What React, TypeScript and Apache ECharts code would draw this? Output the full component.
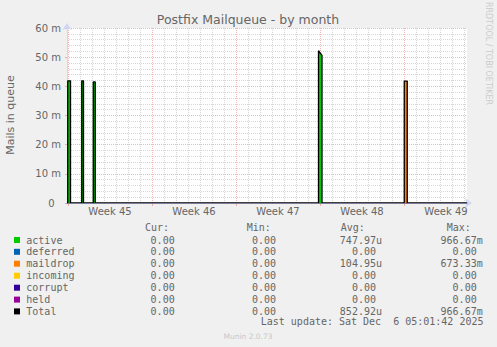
import React, { useEffect, useRef } from "react";
import * as echarts from "echarts";

// ---- texts ----
const TITLE = "Postfix Mailqueue - by month";
const Y_NAME = "Mails in queue";
const WATERMARK = "RRDTOOL / TOBI OETIKER";
const FOOTER = "Munin 2.0.73";
const LAST_UPDATE = "Last update: Sat Dec\u00a0 6 05:01:42 2025";

// ---- x axis (hours since graph start, 2 h per pixel) ----
const X_MIN = 0;
const X_MAX = 800;
const HOURS_PER_DAY = 24;
const HOURS_PER_WEEK = 168;
const WEEK_START_HOURS = [2, 170, 338, 506, 674];
const WEEK_LABELS = ["Week 45", "Week 46", "Week 47", "Week 48", "Week 49"];

// ---- y axis (values in milli-mails) ----
const Y_MIN = 0;
const Y_MAX = 60;
const Y_INTERVAL = 10;

// ---- series values: [hour, milli-mails in queue] ----
const ACTIVE: [number, number][] = [
  [0, 0], [1.5, 0], [1.5, 41.9], [7, 41.9], [7, 0],
  [29.5, 0], [29.5, 41.9], [33, 41.9], [33, 0],
  [52.5, 0], [52.5, 41.5], [56.5, 41.5], [56.5, 0],
  [503, 0], [503, 52.2], [510, 50.6], [510, 0],
  [800, 0],
];
const DEFERRED: [number, number][] = [[0, 0], [800, 0]];
const MAILDROP: [number, number][] = [
  [0, 0], [674.5, 0], [674.5, 41.8], [680.5, 41.8], [680.5, 0], [800, 0],
];
const INCOMING: [number, number][] = [[0, 0], [800, 0]];
const CORRUPT: [number, number][] = [[0, 0], [800, 0]];
const HELD: [number, number][] = [[0, 0], [800, 0]];

// ---- legend table ----
const LEGEND_NAMES = ["active", "deferred", "maildrop", "incoming", "corrupt", "held", "Total"];
const LEGEND_COLORS = ["#00CC00", "#0066B3", "#FF8000", "#FFCC00", "#330099", "#990099", "#000000"];
const CUR = ["0.00", "0.00", "0.00", "0.00", "0.00", "0.00", "0.00"];
const MIN = ["0.00", "0.00", "0.00", "0.00", "0.00", "0.00", "0.00"];
const AVG = ["747.97u", "0.00", "104.95u", "0.00", "0.00", "0.00", "852.92u"];
const MAX = ["966.67m", "0.00", "673.33m", "0.00", "0.00", "0.00", "966.67m"];
const HEADERS = ["Cur:", "Min:", "Avg:", "Max:"];

const FONT = "DejaVu Sans";
const MONO = "DejaVu Sans Mono";
const TEXT_COLOR = "#666666";
const AXIS_COLOR = "#CFD6F8";
const MAJOR_GRID = "rgba(224,80,80,0.42)";
const MINOR_GRID = "rgba(150,150,150,0.38)";

export default function App() {
  const ref = useRef<HTMLDivElement>(null);

  useEffect(() => {
    document.body.style.margin = "0";
    if (!ref.current) return;
    const chart = echarts.init(ref.current, undefined, { renderer: "svg" });

    const weekMid = WEEK_START_HOURS.map((h) => h + HOURS_PER_WEEK / 2);
    const dayHours: number[] = [];
    for (let h = WEEK_START_HOURS[0]; h < X_MAX; h += HOURS_PER_DAY) {
      if ((h - WEEK_START_HOURS[0]) % HOURS_PER_WEEK !== 0) dayHours.push(h);
    }

    const total = [...ACTIVE, ...MAILDROP].sort((a, b) => a[0] - b[0]);

    const areaSeries = (name: string, data: [number, number][], color: string) => ({
      name,
      type: "line",
      data,
      xAxisIndex: 0,
      yAxisIndex: 0,
      showSymbol: false,
      symbol: "none",
      lineStyle: { width: 0, color },
      itemStyle: { color },
      areaStyle: { color, opacity: 1 },
      z: 2,
      silent: true,
    });

    const graphics: any[] = [];
    graphics.push({
      type: "text", x: 248, y: 19.5,
      style: { text: TITLE, fill: TEXT_COLOR, fontSize: 12.5, fontFamily: FONT, align: "center", verticalAlign: "middle" },
    });
    graphics.push({
      type: "text", x: 10.5, y: 115, rotation: Math.PI / 2,
      style: { text: Y_NAME, fill: TEXT_COLOR, fontSize: 11, fontFamily: FONT, align: "center", verticalAlign: "middle" },
    });
    graphics.push({
      type: "text", x: 488, y: 53.5, rotation: -Math.PI / 2,
      style: { text: WATERMARK, fill: "#cccccc", fontSize: 8, fontFamily: FONT, align: "center", verticalAlign: "middle" },
    });
    graphics.push({
      type: "text", x: 248, y: 336,
      style: { text: FOOTER, fill: "#c8c8c8", fontSize: 7.5, fontFamily: FONT, align: "center", verticalAlign: "middle" },
    });

    const headerX = [145, 246.7, 340.7, 446.7];
    const headerY = 227.6;
    HEADERS.forEach((h, i) => {
      graphics.push({
        type: "text", x: headerX[i], y: headerY,
        style: { text: h, fill: TEXT_COLOR, fontSize: 10, fontFamily: MONO, align: "left", verticalAlign: "middle" },
      });
    });
    const colRight = [180.7, 282, 382, 482.7];
    const cols = [CUR, MIN, AVG, MAX];
    const rowY = [240, 251.8, 263.7, 275.7, 287.7, 299.6, 311.4];
    LEGEND_NAMES.forEach((name, i) => {
      const y = rowY[i];
      graphics.push({
        type: "rect", shape: { x: 14, y: y - 3, width: 6, height: 6 },
        style: { fill: LEGEND_COLORS[i] },
      });
      graphics.push({
        type: "text", x: 26.3, y,
        style: { text: name, fill: TEXT_COLOR, fontSize: 10, fontFamily: MONO, align: "left", verticalAlign: "middle" },
      });
      cols.forEach((col, c) => {
        const v = col[i];
        const s = /[0-9]$/.test(v) ? v + "\u00a0" : v;
        graphics.push({
          type: "text", x: colRight[c], y,
          style: { text: s, fill: TEXT_COLOR, fontSize: 10, fontFamily: MONO, align: "right", verticalAlign: "middle" },
        });
      });
    });
    graphics.push({
      type: "text", x: 483.5, y: 321.8,
      style: { text: LAST_UPDATE, fill: TEXT_COLOR, fontSize: 10, fontFamily: MONO, align: "right", verticalAlign: "middle" },
    });

    const option: any = {
      animation: false,
      backgroundColor: "#F0F0F0",
      grid: {
        left: 67, right: 30, top: 28, bottom: 144,
        show: true, backgroundColor: "#FFFFFF", borderWidth: 0,
        containLabel: false, outerBoundsMode: "none",
      },
      xAxis: [
        {
          type: "value", min: X_MIN, max: X_MAX, position: "bottom",
          axisLine: {
            show: true, onZero: false,
            lineStyle: { color: AXIS_COLOR, width: 1 },
            symbol: ["none", "arrow"], symbolSize: [7, 7], symbolOffset: [0, 5],
          },
          axisTick: { show: true, customValues: WEEK_START_HOURS, length: 3, lineStyle: { color: MAJOR_GRID } },
          axisLabel: {
            show: true, customValues: weekMid,
            formatter: (v: number) => {
              const idx = weekMid.findIndex((m) => Math.abs(m - v) < 0.5);
              return idx >= 0 ? WEEK_LABELS[idx] : "";
            },
            color: TEXT_COLOR, fontSize: 10, fontFamily: FONT, margin: 3,
          },
          splitLine: { show: true, lineStyle: { color: MAJOR_GRID, width: 1, type: [1, 1] } },
        },
        {
          type: "value", min: X_MIN, max: X_MAX, position: "bottom",
          axisLine: { show: false },
          axisTick: { show: false, customValues: dayHours },
          axisLabel: { show: false },
          splitLine: { show: true, lineStyle: { color: MINOR_GRID, width: 1, type: [1, 1] } },
        },
        {
          type: "value", min: X_MIN, max: X_MAX, position: "bottom", z: 5,
          axisLine: { show: true, onZero: false, lineStyle: { color: "#7c7c98", width: 1 } },
          axisTick: { show: false },
          axisLabel: { show: false },
          splitLine: { show: false },
        },
      ],
      yAxis: [
        {
          type: "value", min: Y_MIN, max: Y_MAX, interval: Y_INTERVAL,
          axisLine: {
            show: true, onZero: false,
            lineStyle: { color: AXIS_COLOR, width: 1 },
            symbol: ["none", "arrow"], symbolSize: [7, 7], symbolOffset: [0, 5],
          },
          axisTick: { show: true, length: 2, lineStyle: { color: MAJOR_GRID } },
          axisLabel: {
            formatter: (v: number) => (v === 0 ? "0\u00a0\u00a0" : `${v} m`),
            color: TEXT_COLOR, fontSize: 10, fontFamily: FONT, margin: 6,
          },
          splitLine: { show: true, lineStyle: { color: MAJOR_GRID, width: 1, type: [1, 1] } },
          minorTick: { show: false, splitNumber: 5 },
          minorSplitLine: { show: true, lineStyle: { color: MINOR_GRID, width: 1, type: [1, 1] } },
        },
      ],
      series: [
        areaSeries("active", ACTIVE, LEGEND_COLORS[0]),
        areaSeries("deferred", DEFERRED, LEGEND_COLORS[1]),
        areaSeries("maildrop", MAILDROP, LEGEND_COLORS[2]),
        areaSeries("incoming", INCOMING, LEGEND_COLORS[3]),
        areaSeries("corrupt", CORRUPT, LEGEND_COLORS[4]),
        areaSeries("held", HELD, LEGEND_COLORS[5]),
        {
          name: "Total", type: "line", data: total,
          xAxisIndex: 0, yAxisIndex: 0,
          showSymbol: false, symbol: "none",
          lineStyle: { width: 1.3, color: "#000000" },
          z: 3, silent: true,
        },
      ],
      graphic: graphics,
    };

    chart.setOption(option);
    return () => chart.dispose();
  }, []);

  return <div ref={ref} style={{ width: 497, height: 347 }} />;
}
